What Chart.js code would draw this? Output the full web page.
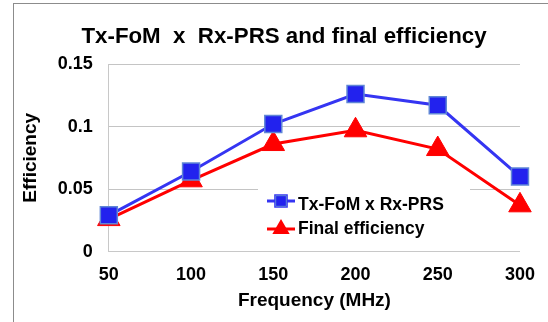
<!DOCTYPE html>
<html>
<head>
<meta charset="utf-8">
<script src="https://cdn.jsdelivr.net/npm/chart.js@4/dist/chart.umd.min.js"></script>
<style>
  html, body { margin: 0; padding: 0; background: #fff; }
  #wrap { position: relative; width: 548px; height: 322px; overflow: hidden; background: #fff; }
  #frame { position: absolute; left: 13px; top: 3px; width: 700px; height: 500px; border: 1px solid #8c8c8c; box-sizing: border-box; pointer-events: none; }
  canvas { position: absolute; left: 0; top: 0; }
</style>
</head>
<body>
<div id="wrap">
  <canvas id="c" width="548" height="322"></canvas>
  <div id="frame"></div>
</div>
<script>
const categories = ['50', '100', '150', '200', '250', '300'];
const txFomRxPrs = [0.029, 0.064, 0.102, 0.126, 0.117, 0.060];
const finalEfficiency = [0.026, 0.057, 0.086, 0.097, 0.082, 0.037];
const yTicks = [0, 0.05, 0.1, 0.15];
const titleText = 'Tx-FoM  x  Rx-PRS and final efficiency';
const xTitle = 'Frequency (MHz)';
const yTitle = 'Efficiency';

const FONT = "'Liberation Sans', Arial, sans-serif";

const titlePlugin = {
  id: 'customTitle',
  afterDraw(chart) {
    const ctx = chart.ctx;
    ctx.save();
    ctx.fillStyle = '#000';
    ctx.font = "bold 22.3px " + FONT;
    ctx.textAlign = 'center';
    ctx.textBaseline = 'middle';
    ctx.fillText(titleText, 284, 37);
    ctx.restore();
  }
};

const legendPlugin = {
  id: 'customLegend',
  afterDatasetsDraw(chart) {
    const ctx = chart.ctx;
    ctx.save();
    ctx.fillStyle = '#ffffff';
    ctx.fillRect(258, 186, 212, 58);
    const rows = [
      { ds: chart.data.datasets[0], y: 201, ty: 205 },
      { ds: chart.data.datasets[1], y: 229, ty: 229 }
    ];
    rows.forEach(r => {
      ctx.strokeStyle = r.ds.borderColor;
      ctx.lineWidth = 3;
      ctx.beginPath();
      ctx.moveTo(267, r.y);
      ctx.lineTo(295, r.y);
      ctx.stroke();
      Chart.helpers.drawPoint(ctx, {
        pointStyle: r.ds.pointStyle,
        radius: r.ds.pointStyle === 'rect' ? 7.5 : 7,
        borderWidth: 1
      }, 281, r.y);
      ctx.fillStyle = r.ds.pointBackgroundColor;
      ctx.strokeStyle = r.ds.pointBorderColor;
      ctx.lineWidth = 1;
      ctx.fill();
      ctx.stroke();
      ctx.fillStyle = '#000';
      ctx.font = "bold 17.5px " + FONT;
      ctx.textBaseline = 'middle';
      ctx.textAlign = 'left';
      ctx.fillText(r.ds.label, 298, r.ty);
    });
    ctx.restore();
  }
};

new Chart(document.getElementById('c'), {
  type: 'line',
  data: {
    labels: categories,
    datasets: [
      {
        label: 'Tx-FoM x Rx-PRS',
        data: txFomRxPrs,
        borderColor: '#3535f2',
        backgroundColor: '#2222ee',
        pointBackgroundColor: '#2222ee',
        pointBorderColor: '#5f86d6',
        pointBorderWidth: 1.5,
        pointStyle: 'rect',
        pointRadius: 12,
        pointHoverRadius: 12,
        borderWidth: 3,
        tension: 0
      },
      {
        label: 'Final efficiency',
        data: finalEfficiency,
        borderColor: '#ff0000',
        backgroundColor: '#ff0000',
        pointBackgroundColor: '#ff0000',
        pointBorderColor: '#ff0000',
        pointBorderWidth: 1,
        pointStyle: 'triangle',
        pointRadius: 13,
        pointHoverRadius: 13,
        borderWidth: 3,
        tension: 0
      }
    ]
  },
  options: {
    responsive: false,
    animation: false,
    devicePixelRatio: 1,
    layout: { padding: { left: 10, right: 25, top: 64, bottom: 5 } },
    plugins: {
      legend: { display: false },
      tooltip: { enabled: false },
      title: { display: false }
    },
    scales: {
      x: {
        type: 'category',
        offset: false,
        grid: { display: false, drawTicks: false },
        border: { display: true, color: '#c8c8c8', width: 1 },
        ticks: {
          color: '#000',
          padding: 13,
          maxRotation: 0,
          autoSkip: false,
          font: { family: FONT, size: 18, weight: 'bold' }
        },
        title: {
          display: true,
          text: xTitle,
          color: '#000',
          font: { family: FONT, size: 19, weight: 'bold' },
          padding: { top: -10, bottom: 5 }
        }
      },
      y: {
        min: 0,
        max: 0.15,
        afterBuildTicks(axis) { axis.ticks = yTicks.map(v => ({ value: v })); },
        grid: { color: '#c4c4c4', lineWidth: 1, drawTicks: false },
        border: { display: true, color: '#c8c8c8', width: 1 },
        ticks: {
          color: '#000',
          padding: 16,
          font: { family: FONT, size: 18, weight: 'bold' },
          callback: v => String(v)
        },
        title: {
          display: true,
          text: yTitle,
          color: '#000',
          font: { family: FONT, size: 19, weight: 'bold' },
          padding: { top: 9, bottom: 0 }
        }
      }
    }
  },
  plugins: [legendPlugin, titlePlugin]
});
</script>
</body>
</html>
